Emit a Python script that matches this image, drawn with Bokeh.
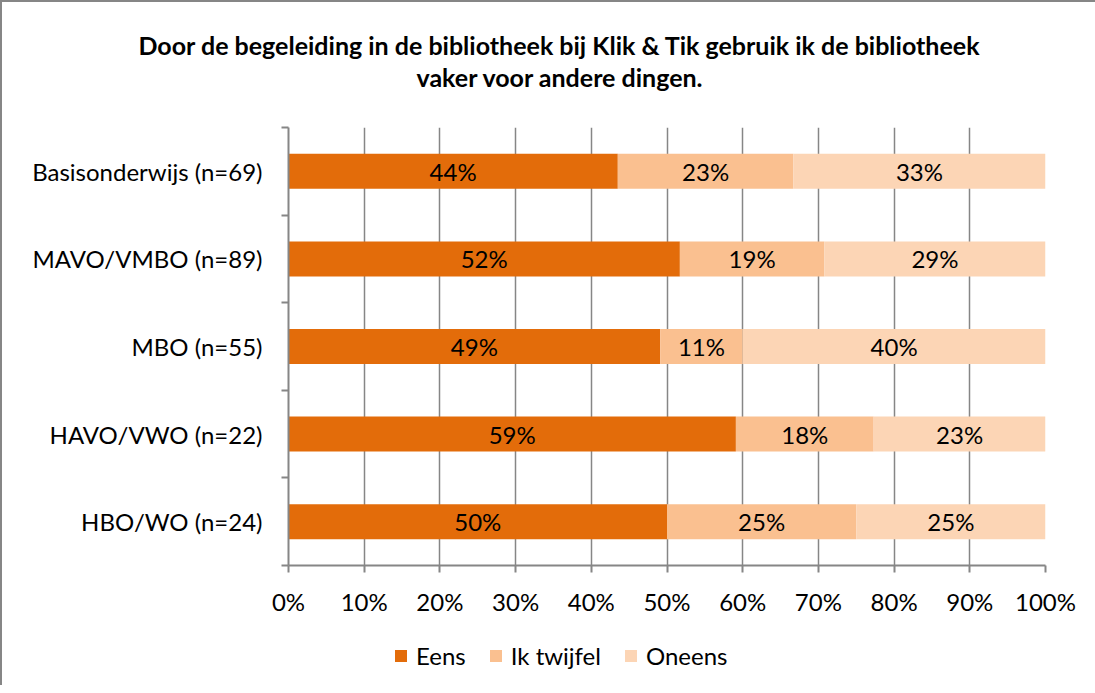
from bokeh.plotting import figure
from bokeh.layouts import column
from bokeh.models import (ColumnDataSource, Range1d, FixedTicker, PrintfTickFormatter,
                          Legend, LegendItem, Title)
from bokeh.core.properties import value
from bokeh.embed import file_html
from bokeh.resources import INLINE

FONT = "Lato"

title_lines = ["Door de begeleiding in de bibliotheek bij Klik & Tik gebruik ik de bibliotheek",
               "vaker voor andere dingen."]
categories = ["Basisonderwijs (n=69)", "MAVO/VMBO (n=89)", "MBO (n=55)",
              "HAVO/VWO (n=22)", "HBO/WO (n=24)"]
series = ["Eens", "Ik twijfel", "Oneens"]
eens = [43.5, 51.7, 49.1, 59.1, 50.0]
twijfel = [23.2, 19.1, 10.9, 18.2, 25.0]
oneens = [33.3, 29.2, 40.0, 22.7, 25.0]
colors = ["#E36C0A", "#FAC090", "#FCD5B5"]
x_ticks = [0, 10, 20, 30, 40, 50, 60, 70, 80, 90, 100]

n = len(categories)
ypos = [n - i - 0.5 for i in range(n)]
stack_cols = ["Eens", "Twijfel", "Oneens"]

src = ColumnDataSource(dict(y=ypos, Eens=eens, Twijfel=twijfel, Oneens=oneens))

RIGHT = 55
p = figure(frame_width=757, frame_height=438, output_backend="svg", toolbar_location=None,
           x_range=Range1d(0, 100), y_range=Range1d(0, n),
           min_border_left=286, min_border_right=RIGHT, min_border_top=125, min_border_bottom=60)
p.title = None
p.outline_line_color = None
p.background_fill_color = "white"

renderers = p.hbar_stack(stack_cols, y="y", height=0.4, color=colors,
                         line_color=None, source=src)

# value labels
lx, ly, lt = [], [], []
for i in range(n):
    vals = [eens[i], twijfel[i], oneens[i]]
    start = 0
    for v in vals:
        lx.append(start + v / 2)
        ly.append(ypos[i])
        lt.append(f"{round(v)}%")
        start += v
p.text(x=lx, y=ly, text=lt, text_align="center", text_baseline="middle",
       text_font=value(FONT), text_font_size="24px", text_color="black")

# grid
p.ygrid.grid_line_color = None
p.xgrid.ticker = FixedTicker(ticks=x_ticks)
p.xgrid.grid_line_color = "#868686"
p.xgrid.grid_line_width = 1.5

# x axis
xa = p.xaxis[0]
xa.ticker = FixedTicker(ticks=x_ticks)
xa.formatter = PrintfTickFormatter(format="%d%%")
xa.axis_line_color = "#868686"
xa.axis_line_width = 2
xa.major_tick_line_color = "#868686"
xa.major_tick_line_width = 2
xa.major_tick_out = 7
xa.major_tick_in = 0
xa.minor_tick_line_color = None
xa.major_label_text_font = FONT
xa.major_label_text_font_size = "24px"
xa.major_label_text_color = "black"
xa.major_label_standoff = 14

# y axis
ya = p.yaxis[0]
ya.ticker = FixedTicker(ticks=ypos, minor_ticks=list(range(n + 1)))
ya.major_label_overrides = {y: c for y, c in zip(ypos, categories)}
ya.axis_line_color = "#868686"
ya.axis_line_width = 2
ya.major_tick_line_color = None
ya.major_tick_out = 0
ya.major_tick_in = 0
ya.minor_tick_line_color = "#868686"
ya.minor_tick_line_width = 2
ya.minor_tick_out = 7
ya.minor_tick_in = 0
ya.major_label_text_font = FONT
ya.major_label_text_font_size = "24px"
ya.major_label_text_color = "black"
ya.major_label_standoff = 19

# title (two lines); panels stack outward from the frame
title_kw = dict(align="left", standoff=0, text_font=FONT, text_font_size="25px",
                text_font_style="bold", text_color="black")
p.add_layout(Title(text=" ", offset=0, **{**title_kw, "standoff": 4}), "above")
p.add_layout(Title(text=title_lines[1], offset=128, **title_kw), "above")
p.add_layout(Title(text=title_lines[0], offset=-150, **title_kw), "above")

# legend strip below the chart (hidden copies of the bars supply the swatches)
lg = figure(width=286 + 757 + RIGHT, height=60, output_backend="svg", toolbar_location=None,
            x_range=Range1d(0, 100), y_range=Range1d(-20, -19), min_border=0)
lg.title = None
lg.axis.visible = False
lg.grid.visible = False
lg.outline_line_color = None
lg.background_fill_color = None
lg.border_fill_color = None
lrs = lg.hbar_stack(stack_cols, y="y", height=0.4, color=colors, line_color=None, source=src)
for r in lrs:
    r.visible = False
items = [LegendItem(label=s, renderers=[r]) for s, r in zip(series, lrs)]
legend = Legend(items=items, orientation="horizontal", location=(105, 15), margin=0, padding=0,
                label_text_font=FONT, label_text_font_size="24px", label_text_color="black",
                glyph_width=15, glyph_height=15, spacing=22, label_standoff=8,
                border_line_color=None, background_fill_alpha=0)
lg.add_layout(legend, "center")

layout = column(p, lg, spacing=0)
layout.styles = {"border-top": "2px solid #868686", "border-left": "2px solid #868686",
                 "background-color": "white"}

open("out.html", "w").write(file_html(layout, INLINE))
